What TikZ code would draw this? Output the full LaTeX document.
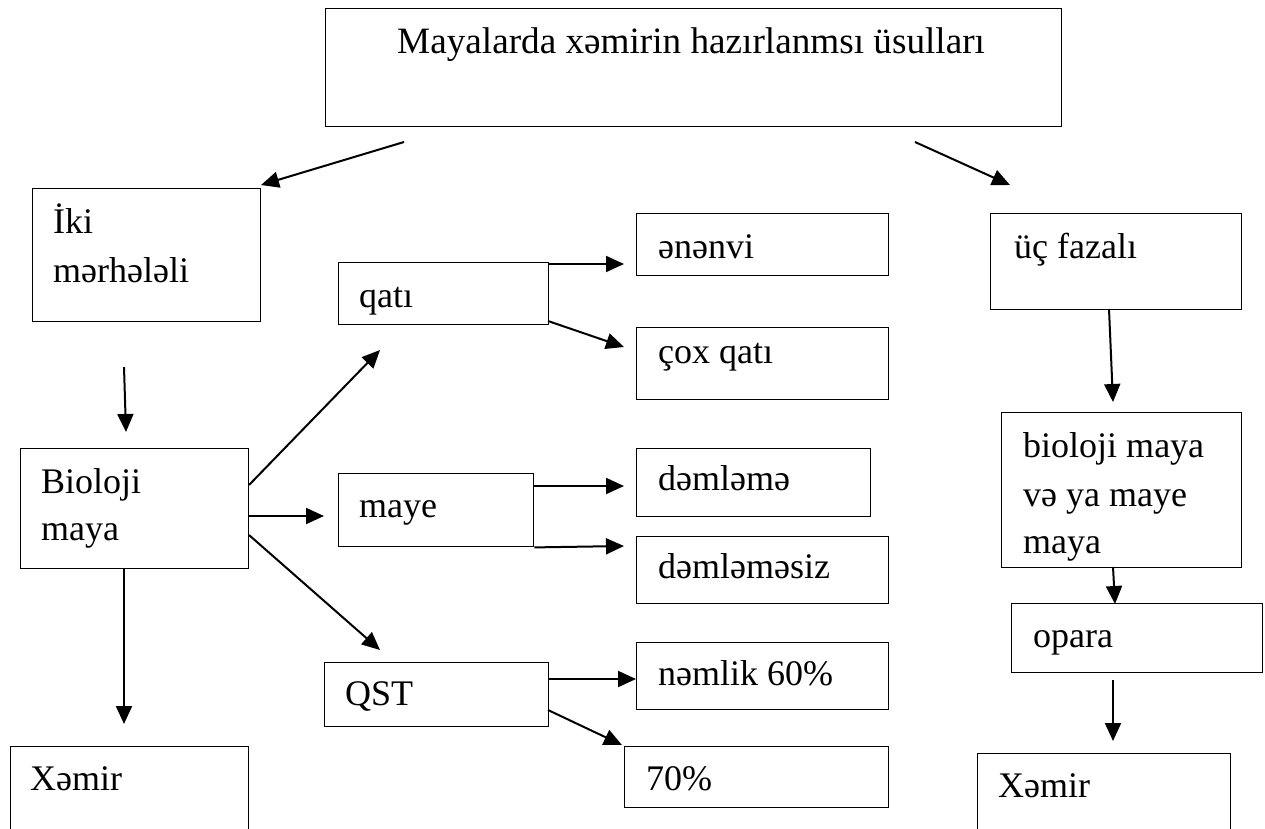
\documentclass[tikz,border=0pt]{standalone}
\usepackage{fontspec}
\setmainfont{Liberation Serif}
\usetikzlibrary{arrows.meta}
\begin{document}
\begin{tikzpicture}[x=1pt,y=-1pt,
  box/.style={draw,line width=1.4pt,inner sep=0pt,anchor=north west},
  txt/.style={anchor=base west,inner sep=0pt,font=\fontsize{36}{49}\selectfont},
  arr/.style={line width=2pt,-{Triangle[length=18pt,width=16pt]}}]
\useasboundingbox (0,0) rectangle (1265,828);
\clip (0,0) rectangle (1265,828);
% boxes
\node[box,minimum width=736pt,minimum height=118pt] (top) at (325,8) {};
\node[box,minimum width=228pt,minimum height=133pt] (iki) at (32,188) {};
\node[box,minimum width=251pt,minimum height=96pt] (uc) at (990,213) {};
\node[box,minimum width=252pt,minimum height=62pt] (enenvi) at (636,213) {};
\node[box,minimum width=252pt,minimum height=72pt] (cox) at (636,327) {};
\node[box,minimum width=210pt,minimum height=62pt] (qati) at (338,262) {};
\node[box,minimum width=228pt,minimum height=120pt] (bio) at (20,448) {};
\node[box,minimum width=238pt,minimum height=100pt] (xem1) at (10,746) {};
\node[box,minimum width=195pt,minimum height=73pt] (maye) at (338,473) {};
\node[box,minimum width=234pt,minimum height=68pt] (dem) at (636,448) {};
\node[box,minimum width=252pt,minimum height=67pt] (demsiz) at (636,536) {};
\node[box,minimum width=224pt,minimum height=64pt] (qst) at (324,662) {};
\node[box,minimum width=252pt,minimum height=67pt] (nem) at (636,642) {};
\node[box,minimum width=264pt,minimum height=61pt] (p70) at (624,746) {};
\node[box,minimum width=240pt,minimum height=155pt] (biom) at (1001,412) {};
\node[box,minimum width=251pt,minimum height=69pt] (opara) at (1011,603) {};
\node[box,minimum width=253pt,minimum height=100pt] (xem2) at (977,753) {};
% texts
\node[txt,font=\fontsize{37.2}{49}\selectfont] (topT) at (397,53) {Mayalarda xəmirin hazırlanmsı üsulları};
\node[txt] (ikiT1) at (53,233) {İki};
\node[txt] (ikiT2) at (53,282) {mərhələli};
\node[txt] (ucT) at (1014,258) {üç fazalı};
\node[txt] (enenviT) at (658,258) {ənənvi};
\node[txt] (coxT) at (658,363) {çox qatı};
\node[txt] (qatiT) at (359,307) {qatı};
\node[txt] (bioT1) at (41,493) {Bioloji};
\node[txt] (bioT2) at (41,540) {maya};
\node[txt] (xem1T) at (30,790) {Xəmir};
\node[txt] (mayeT) at (359,517) {maye};
\node[txt] (demT) at (658,490) {dəmləmə};
\node[txt] (demsizT) at (658,578) {dəmləməsiz};
\node[txt] (qstT) at (345,705) {QST};
\node[txt] (nemT) at (658,685) {nəmlik 60\%};
\node[txt] (p70T) at (646,790) {70\%};
\node[txt] (biomT1) at (1023,457) {bioloji maya};
\node[txt] (biomT2) at (1023,506) {və ya maye};
\node[txt] (biomT3) at (1023,553) {maya};
\node[txt] (oparaT) at (1033,647) {opara};
\node[txt] (xem2T) at (998,797) {Xəmir};
% arrow ends
\coordinate (a1) at (404,142); \coordinate (a2) at (261,185);
\coordinate (b1) at (915,142); \coordinate (b2) at (1010,185);
\coordinate (c1) at (1109,309); \coordinate (c2) at (1113,402);
\coordinate (d1) at (124,367); \coordinate (d2) at (126,432);
\coordinate (e2) at (124,724);
\coordinate (f1) at (249,485); \coordinate (f2) at (380,350);
\coordinate (g1) at (248,516); \coordinate (g2) at (324,516);
\coordinate (h1) at (249,535); \coordinate (h2) at (380,650);
\coordinate (i1) at (548,264); \coordinate (i2) at (624,264);
\coordinate (j1) at (548,321); \coordinate (j2) at (624,347);
\coordinate (k1) at (533,486); \coordinate (k2) at (624,486);
\coordinate (l2) at (624,546);
\coordinate (m1) at (548,679); \coordinate (m2) at (636,679);
\coordinate (n1) at (548,710); \coordinate (n2) at (622,745);
\coordinate (o1) at (1113,567); \coordinate (o2) at (1115,604);
\coordinate (p1) at (1113,680); \coordinate (p2) at (1113,741);
% arrows
\draw[arr] (a1) -- (a2);
\draw[arr] (b1) -- (b2);
\draw[arr] (c1) -- (c2);
\draw[arr] (d1) -- (d2);
\draw[arr] (bio.south -| e2) -- (e2);
\draw[arr] (f1) -- (f2);
\draw[arr] (g1) -- (g2);
\draw[arr] (h1) -- (h2);
\draw[arr] (i1) -- (i2);
\draw[arr] (j1) -- (j2);
\draw[arr] (k1) -- (k2);
\draw[arr] (maye.south east) -- (l2);
\draw[arr] (m1) -- (m2);
\draw[arr] (n1) -- (n2);
\draw[arr] (o1) -- (o2);
\draw[arr] (p1) -- (p2);
\end{tikzpicture}
\end{document}
